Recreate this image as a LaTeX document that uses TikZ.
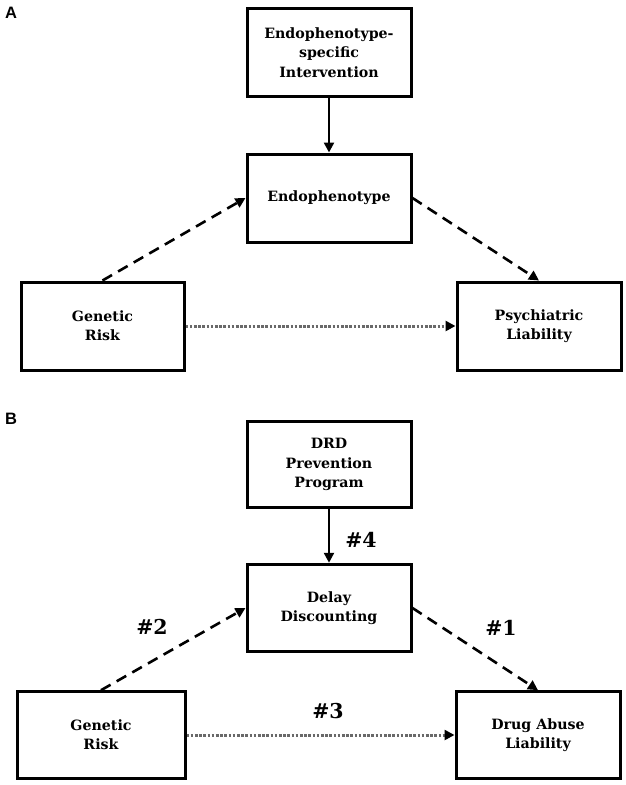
\documentclass[tikz,border=0pt]{standalone}
\usepackage{fontspec}
\setmainfont{DejaVu Serif}
\setsansfont{Liberation Sans}
\usetikzlibrary{arrows.meta}

\begin{document}
\begin{tikzpicture}[x=1pt,y=1pt,yscale=-1,xscale=1,
  box/.style={draw, line width=3, minimum width=164, minimum height=88, inner sep=0, align=center,
    font=\fontsize{14.2}{19.3}\selectfont\bfseries},
  panel/.style={font=\fontsize{16.5}{18}\selectfont\sffamily\bfseries, inner sep=0},
  hashlbl/.style={font=\fontsize{20.5}{24}\selectfont\bfseries, inner sep=0},
  solidarr/.style={line width=2.4, -{Triangle[length=10,width=10]}},
  dasharr/.style={line width=2.6, dash pattern=on 11 off 7, -{Triangle[length=10,width=10]}},
  dotarr/.style={line width=3, color={rgb, 255:red, 105; green, 105; blue, 105}, dash pattern=on 2.6 off 1.6,
    -{Triangle[length=10,width=10,color=black]}}]
\useasboundingbox (0,0) rectangle (626,785);

% Panel A
\node [panel] (labA) at (11,13) {A};
%Shape: Rectangle
\node [box] (intA) at (329,52.5) {Endophenotype-\\specific\\Intervention};
\node [box] (endoA) at (329,198) {Endophenotype};
\node [box, minimum width=163] (genA) at (102.5,326) {Genetic\\Risk};
\node [box] (psyA) at (539,326) {Psychiatric\\Liability};
%Straight Lines
\draw [solidarr] (intA.south) -- (endoA.north);
\draw [dasharr] (genA.north) -- (endoA.west);
\draw [dasharr] (endoA.east) -- (psyA.north);
\draw [dotarr] (genA.east) -- (psyA.west);

% Panel B
\node [panel] (labB) at (11,419) {B};
%Shape: Rectangle
\node [box, minimum height=86] (drdB) at (329,464.5) {DRD\\Prevention\\Program};
\node [box, minimum height=87.5] (delayB) at (329,608) {Delay\\Discounting};
\node [box, minimum width=168, minimum height=86.6] (genB) at (101,735) {Genetic\\Risk};
\node [box, minimum height=86.6] (drugB) at (538,735) {Drug Abuse\\Liability};
%Straight Lines
\draw [solidarr] (drdB.south) -- (delayB.north);
\draw [dasharr] (genB.north) -- (delayB.west);
\draw [dasharr] (delayB.east) -- (drugB.north);
\draw [dotarr] (genB.east) -- (drugB.west);

% Text Node
\node [hashlbl] (h4) at (361,540) {\#4};
\node [hashlbl] (h2) at (152,627) {\#2};
\node [hashlbl] (h1) at (501,628) {\#1};
\node [hashlbl] (h3) at (328,711) {\#3};

\end{tikzpicture}
\end{document}
